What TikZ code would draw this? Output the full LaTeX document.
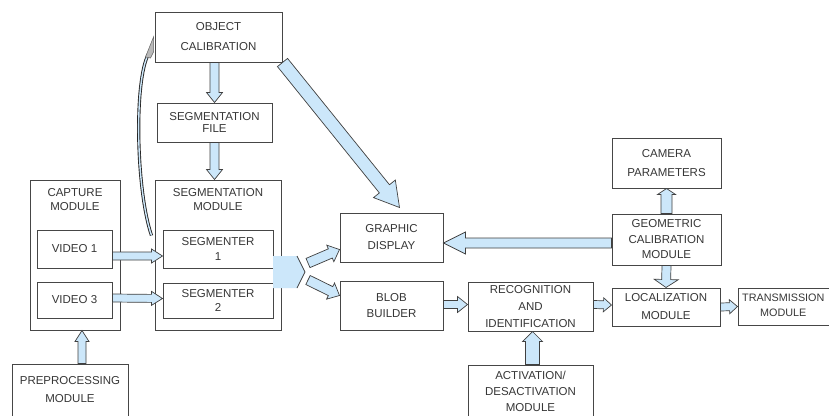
\documentclass[tikz,border=0pt]{standalone}
\usepackage{fontspec}
\setmainfont{Liberation Sans}
\usetikzlibrary{calc}
\definecolor{arrowfill}{RGB}{204,231,250}
\definecolor{boxline}{RGB}{70,70,70}
\definecolor{txt}{RGB}{55,55,55}
\tikzset{
  box/.style={draw=boxline, line width=1pt, fill=white, inner sep=0pt, align=center,
     text=txt, font=\fontsize{11.5}{15}\selectfont},
  lbl/.style={inner sep=0pt, align=center, text=txt, font=\fontsize{11.5}{14}\selectfont},
  arr/.style={fill=arrowfill, draw=black!75, line width=0.7pt, line join=miter}
}
% block arrow: from, to, half body width, half head width, head length
\newcommand{\barr}[5]{%
  \coordinate (bs) at (#1);
  \coordinate (be) at (#2);
  \coordinate (bh) at ($(be)!#5!(bs)$);
  \filldraw[arr] ($(bs)!#3!90:(be)$) -- ($(bh)!#3!90:(be)$) -- ($(bh)!#4!90:(be)$) -- (be)
    -- ($(bh)!#4!-90:(be)$) -- ($(bh)!#3!-90:(be)$) -- ($(bs)!#3!-90:(be)$) -- cycle;}
\begin{document}
\begin{tikzpicture}[x=1pt,y=-1pt]
\useasboundingbox (0,0) rectangle (829,415);
\fill[white] (0,0) rectangle (829,415);
\clip (0,0) rectangle (829,415);

% top column
\node[box, minimum width=127pt, minimum height=50pt, font=\fontsize{11.5}{20}\selectfont] (objcal) at (218.5,37) {OBJECT\\CALIBRATION};
\node[box, minimum width=115pt, minimum height=39pt, font=\fontsize{11.5}{12.5}\selectfont] (segfile) at (214.5,122.5) {SEGMENTATION\\FILE};

% segmentation module
\node[box, minimum width=126pt, minimum height=150pt] (segmod) at (218,255) {};
\node[lbl] (segmodt) at (218,199.5) {SEGMENTATION\\MODULE};
\node[box, minimum width=110pt, minimum height=38pt] (seg1) at (218,249) {SEGMENTER\\1};
\node[box, minimum width=110pt, minimum height=35pt, font=\fontsize{11.5}{14}\selectfont] (seg2) at (218,300.5) {SEGMENTER\\2};

% capture module
\node[box, minimum width=90pt, minimum height=150pt] (capture) at (75,255) {};
\node[lbl] (capturet) at (75,200) {CAPTURE\\MODULE};
\node[box, minimum width=75pt, minimum height=38pt] (vid1) at (74.5,249) {VIDEO 1};
\node[box, minimum width=75pt, minimum height=36pt] (vid2) at (74.5,300) {VIDEO 3};
\node[box, minimum width=116pt, minimum height=52pt, font=\fontsize{11.5}{18}\selectfont] (prep) at (70,390) {PREPROCESSING\\MODULE};

% middle
\node[box, minimum width=103pt, minimum height=49pt, font=\fontsize{11.5}{17}\selectfont] (gd) at (391.5,237.5) {GRAPHIC\\DISPLAY};
\node[box, minimum width=103pt, minimum height=49pt, font=\fontsize{11.5}{16}\selectfont] (blob) at (391.5,305.5) {BLOB\\BUILDER};
\node[box, minimum width=125pt, minimum height=49pt, font=\fontsize{11.5}{17}\selectfont] (recog) at (530.5,306.5) {RECOGNITION\\AND\\IDENTIFICATION};
\node[box, minimum width=125pt, minimum height=52pt, font=\fontsize{11.5}{16}\selectfont] (act) at (530.5,391) {ACTIVATION/\\DESACTIVATION\\MODULE};

% right
\node[box, minimum width=109pt, minimum height=50pt, font=\fontsize{11.5}{19}\selectfont] (cam) at (666.5,163) {CAMERA\\PARAMETERS};
\node[box, minimum width=109pt, minimum height=51pt, font=\fontsize{11.5}{15.5}\selectfont] (geo) at (666.5,239.5) {GEOMETRIC\\CALIBRATION\\MODULE};
\node[box, minimum width=108pt, minimum height=38pt, font=\fontsize{11.5}{18}\selectfont] (loc) at (666,307) {LOCALIZATION\\MODULE};
\node[box, minimum width=102pt, minimum height=37pt] (trans) at (789,306.5) {};
\node[lbl, anchor=west, font=\fontsize{10.8}{15}\selectfont] (transt) at (742,305.5) {TRANSMISSION\\MODULE};

% merge shape
\coordinate (mtip) at (305,272);
\filldraw[arr, draw=none] (273,256) -- (297,256) -- (mtip) -- (297,288) -- (273,288) -- cycle;
\draw[black!75, line width=0.7pt] (297,256) -- (mtip) -- (297,288);

% arrows
\barr{segfile.north |- objcal.south}{segfile.north}{4.5pt}{8pt}{10pt}
\barr{segfile.south}{segfile.south |- segmod.north}{4.5pt}{8pt}{10pt}
\barr{$(vid1.east)+(0,7)$}{$(seg1.west)+(0,7)$}{4pt}{7pt}{11pt}
\barr{$(vid2.east)+(0,-2)$}{$(seg2.west)+(0,-2)$}{4pt}{7pt}{11pt}
\barr{$(prep.north)+(12,0)$}{$(capture.south)+(7,0)$}{4pt}{7pt}{11pt}
\barr{$(mtip)+(3,-9)$}{$(gd.west)+(0,12)$}{5pt}{9pt}{10pt}
\barr{$(mtip)+(3,8)$}{$(blob.west)+(0,-10)$}{5pt}{9pt}{10pt}
\barr{objcal.south east}{$(gd.north)+(8,-5)$}{6.5pt}{14pt}{24pt}
\barr{$(geo.west)+(0,3.5)$}{$(gd.east)+(0,5.5)$}{5pt}{11pt}{22pt}
\barr{geo.north}{cam.south}{5.5pt}{9pt}{6pt}
\barr{geo.south}{loc.north}{4.5pt}{12pt}{8pt}
\barr{$(blob.east)+(0,-1)$}{$(recog.west)+(0,-2)$}{4pt}{8pt}{10pt}
\barr{$(recog.east)+(0,-2)$}{$(loc.west)+(0,-2)$}{4pt}{7pt}{8pt}
\barr{loc.east}{trans.west}{4pt}{7pt}{8pt}
\barr{$(act.north)+(2,0)$}{$(recog.south)+(2,0)$}{7pt}{10pt}{10pt}

% curved link from segmentation module to object calibration
\draw[black!85, line width=0.9pt, double=arrowfill, double distance=1.4pt]
  ($(seg1.north west)+(-11,6)$) .. controls (136,190) and (134,80) .. ($(objcal.west)+(-6,17)$);
\filldraw[fill=gray!55, draw=black!60, line width=0.5pt]
  ($(objcal.west)+(-9,20)$) -- ($(objcal.west)+(-1,0)$) -- ($(objcal.west)+(-1,15)$) -- ($(objcal.west)+(-4,21)$) -- cycle;
\end{tikzpicture}
\end{document}
